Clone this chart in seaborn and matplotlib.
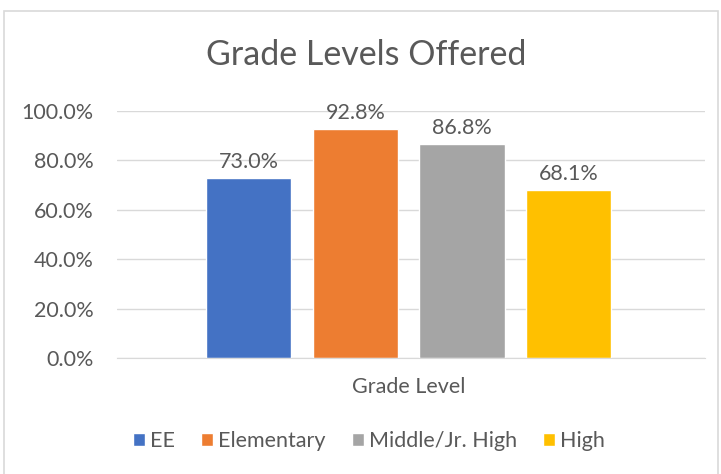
import pandas as pd
import matplotlib.pyplot as plt
import seaborn as sns
from matplotlib.patches import Patch, Rectangle
from matplotlib.ticker import PercentFormatter

# data
series = ['EE', 'Elementary', 'Middle/Jr. High', 'High']
values = [0.730, 0.928, 0.868, 0.681]
category = 'Grade Level'
colors = ['#4472C4', '#ED7D31', '#A5A5A5', '#FFC000']

df = pd.DataFrame({'level': [category] * len(series), 'series': series, 'pct': values})

sns.set_style('white')
plt.rcParams['font.family'] = ['Lato', 'DejaVu Sans']
text_color = '#595959'

fig = plt.figure(figsize=(7.21, 4.74), dpi=100)
ax = fig.add_axes([117 / 721, 1 - 358 / 474, (705 - 117) / 721, (358 - 111) / 474])

sns.barplot(data=df, x='level', y='pct', hue='series', hue_order=series,
            palette=colors, width=0.725, gap=0.2, saturation=1,
            legend=False, ax=ax)

for cont in ax.containers:
    ax.bar_label(cont, labels=[f'{b.get_height() * 100:.1f}%' for b in cont],
                 padding=4, fontsize=15.5, color=text_color)

ax.set_ylim(0, 1)
ax.set_xlim(-0.496, 0.504)
ax.yaxis.set_major_formatter(PercentFormatter(1.0, decimals=1))
ax.set_yticks([0, 0.2, 0.4, 0.6, 0.8, 1.0])
ax.grid(axis='y', color='#d9d9d9', linewidth=1)
ax.set_axisbelow(True)
for s in ['top', 'right', 'left']:
    ax.spines[s].set_visible(False)
ax.spines['bottom'].set_color('#d9d9d9')
ax.tick_params(axis='y', length=0, labelsize=15.5, labelcolor=text_color, pad=17)
ax.tick_params(axis='x', length=0, labelsize=15.5, labelcolor=text_color, pad=14)
ax.set_xlabel('')
ax.set_ylabel('')

fig.text(366 / 721, 1 - 55 / 474, 'Grade Levels Offered', ha='center', va='center',
         fontsize=24.5, color=text_color)

handles = [Patch(facecolor=c, label=s) for c, s in zip(colors, series)]
fig.legend(handles=handles, loc='center', bbox_to_anchor=(369 / 721, 1 - 441 / 474),
           ncol=4, frameon=False, fontsize=15.5, labelcolor=text_color,
           handlelength=0.55, handleheight=0.55, handletextpad=0.25, columnspacing=1.2)

fig.patches.append(Rectangle((4 / 721, -0.01), 714 / 721, 1 - 11 / 474 + 0.01,
                             transform=fig.transFigure, fill=False,
                             edgecolor='#d9d9d9', linewidth=1.2))

fig.savefig('out.png', dpi=100)
